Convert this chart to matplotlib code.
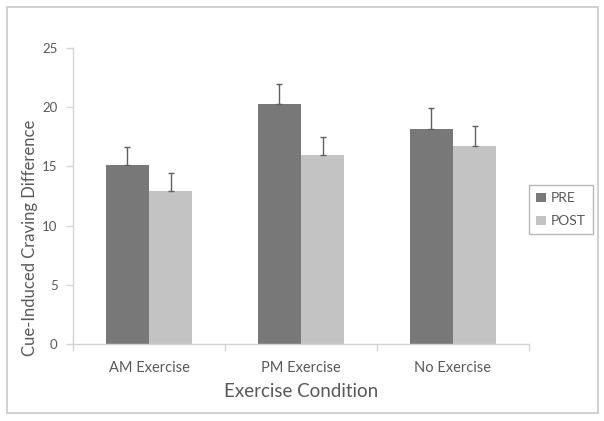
import numpy as np
import matplotlib
matplotlib.use("Agg")
from matplotlib import pyplot as plt
from matplotlib.patches import Rectangle

plt.rcParams['font.family'] = ['Lato', 'DejaVu Sans']

conditions = ['AM Exercise', 'PM Exercise', 'No Exercise']
pre = [15.1, 20.3, 18.2]
post = [12.9, 15.95, 16.75]
pre_err = [1.55, 1.65, 1.75]
post_err = [1.55, 1.55, 1.65]

c_pre = '#787878'
c_post = '#c3c3c3'
txt = '#595959'
axc = '#d4d4d4'

fig = plt.figure(figsize=(6.04, 4.21), dpi=100)
# outer chart border
fig.patches.append(Rectangle((6.5/604, 1-413/421), 591/604, 406/421, transform=fig.transFigure,
                             fill=False, edgecolor='#c8c8c8', linewidth=1.2))

ax = fig.add_axes([73/604, 1-344/421, 456/604, 296/421])
x = np.arange(len(conditions))
w = 0.283

ax.bar(x - w/2, pre, w, color=c_pre, label='PRE', zorder=2)
ax.bar(x + w/2, post, w, color=c_post, label='POST', zorder=2)
ax.errorbar(x - w/2, pre, yerr=[np.zeros(3), pre_err], fmt='none', ecolor='#606060',
            elinewidth=1, capsize=2, capthick=1, zorder=3)
ax.errorbar(x + w/2, post, yerr=[np.zeros(3), post_err], fmt='none', ecolor='#606060',
            elinewidth=1, capsize=2, capthick=1, zorder=3)

ax.set_xlim(-0.5, 2.5)
ax.set_ylim(0, 25)
ax.set_yticks([0, 5, 10, 15, 20, 25])

# separators between categories as major ticks, names as minor ticks
ax.set_xticks([-0.5, 0.5, 1.5, 2.5])
ax.set_xticklabels([])
ax.set_xticks(x, minor=True)
ax.set_xticklabels(conditions, minor=True)
ax.tick_params(axis='x', which='major', length=5, color=axc, width=1)
ax.tick_params(axis='x', which='minor', length=0, pad=12, labelsize=10.5, labelcolor=txt)
ax.tick_params(axis='y', length=5, color=axc, width=1, pad=6, labelsize=9.5, labelcolor=txt)

for s in ['top', 'right']:
    ax.spines[s].set_visible(False)
for s in ['left', 'bottom']:
    ax.spines[s].set_color(axc)
    ax.spines[s].set_linewidth(1)

ax.set_xlabel('Exercise Condition', fontsize=13.5, color=txt, labelpad=6)
ax.set_ylabel('Cue-Induced Craving Difference', fontsize=12, color=txt)
ax.yaxis.set_label_coords(-0.077, 0.36)

leg = ax.legend(loc='center left', bbox_to_anchor=(1.0, 0.453), fontsize=10, frameon=True,
                fancybox=False, edgecolor='#a8a8a8', handlelength=0.7, handleheight=0.7,
                handletextpad=0.4, labelspacing=0.8, borderpad=0.5, borderaxespad=0,
                labelcolor=txt)
leg.get_frame().set_linewidth(1)

fig.savefig('out.png', dpi=100)
